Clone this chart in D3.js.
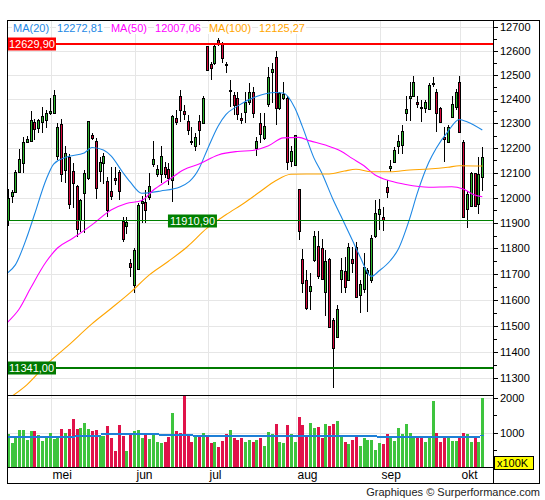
<!DOCTYPE html>
<html>
<head>
<meta charset="utf-8">
<script src="https://cdn.jsdelivr.net/npm/d3@7"></script>
<style>
body { margin: 0; background: #fff; }
svg { display: block; font-family: "Liberation Sans", Arial, sans-serif; font-size: 11px; }
</style>
</head>
<body>
<svg id="chart" width="545" height="500"></svg>
<script>
// daily candles, mid april -> early october
const opens = [11912,12008,12024,12102,12138,12223,12229,12305,12283,12306,
  12313,12344,12344,12169,12298,12111,12165,12107,12047,11912,
  12018,12078,12253,12229,12108,12141,12067,12027,12080,12102,
  11908,11888,11741,11657,11718,11979,11983,12004,12134,12095,
  12095,12125,12114,12071,12324,12412,12351,12310,12229,12209,
  12310,12303,12620,12546,12549,12645,12630,12545,12437,12417,
  12403,12321,12346,12389,12428,12199,12301,12240,12380,12511,
  12574,12362,12403,12403,12147,12131,12034,11757,11676,11635,
  11754,11809,11800,11631,11757,11522,11458,11679,11711,11676,
  11757,11804,11618,11640,11702,11676,11848,11935,11923,12042,
  12118,12145,12209,12212,12342,12403,12414,12387,12369,12362,
  12358,12464,12431,12365,12246,12226,12325,12366,12470,12226,
  11955,11968,12098,11974,12082];
const highs = [12034,12031,12111,12195,12244,12249,12350,12320,12320,12369,
  12355,12403,12438,12301,12317,12208,12175,12141,12051,11994,
  12111,12312,12260,12242,12165,12179,12084,12125,12125,12111,
  11925,11922,11757,11800,11978,12007,12031,12098,12229,12131,
  12208,12142,12138,12335,12355,12438,12376,12335,12287,12260,
  12335,12414,12622,12555,12634,12653,12639,12555,12479,12431,
  12431,12342,12431,12465,12451,12246,12342,12344,12535,12549,
  12600,12430,12472,12414,12208,12253,12035,11796,11715,11702,
  11868,11868,11835,11793,11761,11529,11580,11761,11767,11820,
  11806,11826,11676,11780,11722,11852,11991,11994,11962,12071,
  12152,12203,12253,12294,12414,12472,12496,12414,12396,12396,
  12465,12493,12441,12366,12287,12294,12412,12441,12496,12233,
  12027,12104,12100,12165,12205];
const lows = [11889,11980,12022,12098,12098,12219,12226,12233,12260,12262,
  12280,12335,12339,12152,12064,12060,11956,11958,11846,11863,
  11860,12071,12233,11994,12062,12056,11925,11991,12051,11991,
  11826,11856,11689,11625,11715,11900,11898,11991,12125,12084,
  12058,12078,12051,11984,12294,12307,12314,12253,12212,12189,
  12212,12301,12518,12479,12542,12622,12549,12507,12369,12335,
  12314,12298,12301,12376,12321,12169,12219,12233,12369,12383,
  12294,12355,12396,12111,12125,12127,11833,11627,11560,11560,
  11748,11679,11676,11537,11494,11263,11452,11625,11625,11672,
  11702,11611,11550,11625,11554,11663,11839,11872,11869,11998,
  12104,12138,12176,12176,12311,12311,12412,12362,12305,12342,
  12355,12451,12264,12304,12145,12219,12321,12355,12262,11924,
  11879,11963,11963,11934,12028];
const closes = [11998,12022,12102,12156,12223,12237,12313,12279,12313,12331,
  12344,12351,12417,12284,12094,12179,11974,12058,11875,11991,
  12098,12310,12240,12040,12142,12168,11951,12008,12071,12027,
  11837,11902,11726,11793,11971,11987,11951,12047,12156,12116,
  12169,12095,12080,12331,12307,12355,12338,12273,12228,12244,
  12273,12405,12521,12528,12620,12632,12570,12544,12438,12376,
  12339,12314,12389,12431,12342,12230,12257,12290,12493,12525,
  12362,12424,12421,12145,12188,12251,11869,11663,11567,11653,
  11848,11692,11679,11750,11496,11414,11563,11715,11650,11804,
  11744,11612,11660,11728,11715,11839,11941,11954,11912,12024,
  12127,12192,12229,12269,12358,12413,12470,12379,12368,12387,
  12458,12466,12342,12305,12235,12287,12379,12428,12264,11925,
  12014,12098,11968,12095,12163];
// volume in units of 100K
const volumes = [971,685,876,1066,1085,781,1038,1038,923,752,
  828,990,809,895,1095,990,1095,1399,1095,1133,
  1276,1095,1038,1066,904,904,1180,847,476,1209,
  895,476,923,1038,1066,828,942,809,942,733,
  704,733,876,1561,1038,1000,2047,895,733,923,
  876,990,923,704,733,590,762,952,1066,847,
  781,847,733,781,733,781,847,619,1019,952,
  1238,733,704,1209,952,714,1447,1209,923,1276,
  1133,1161,847,1238,1190,1238,1333,876,733,666,
  781,904,619,847,781,781,495,704,666,952,
  828,752,1133,952,1238,990,847,847,847,733,
  876,1923,1000,733,847,876,752,752,876,1000,
  952,733,876,733,1990];

const monthNames = ["mei", "jun", "jul", "aug", "sep", "okt"];
const monthStarts = [11, 33, 52, 75, 97, 118];

// moving averages at these candle indices
const ma20Idx = [0,2,5,7,10,12,15,20,22,25,27,30,32,35,40,45,50,52,55,57,60,65,70,72,75,77,80,82,85,87,90,92,95,97,100,102,105,107,110,112,115,118,120,124];
const ma20 = [11704,11735,11843,11933,12071,12135,12162,12180,12202,12192,12168,12103,12063,12018,12027,12043,12117,12188,12290,12336,12371,12411,12427,12425,12364,12287,12160,12101,11993,11929,11833,11769,11690,11711,11752,11795,11916,12017,12141,12200,12267,12316,12307,12273];
const ma50Idx = [0,3,6,10,13,17,22,27,31,35,38,42,46,50,55,60,64,68,72,76,79,83,87,90,93,96,100,104,110,116,119,122,124];
const ma50 = [11514,11564,11645,11746,11801,11839,11892,11951,11977,11989,12030,12071,12112,12135,12172,12186,12190,12208,12241,12243,12229,12212,12188,12158,12129,12091,12067,12053,12042,12044,12035,12011,12004];
const ma100Idx = [0,5,10,16,22,27,32,37,42,47,52,57,62,66,70,74,78,84,88,91,95,100,105,110,115,118,124];
const ma100 = [11223,11276,11351,11427,11507,11566,11627,11696,11749,11807,11878,11932,11981,12025,12068,12094,12095,12095,12107,12114,12104,12104,12111,12115,12122,12128,12127];

const maNames = ["MA(20)", "MA(50)", "MA(100)"];
const maLast = ["12272,81", "12007,06", "12125,27"];

// average volume steps (start index, level)
const volAvgStart = [0, 18, 25, 40, 49, 97, 124];
const volAvg = [874, 903, 952, 922, 903, 874, 910];

const levels = [12629.90, 11910.90, 11341.00];
const priceTicks = d3.range(11300, 12701, 100);
const volTicks = [1000, 2000];

const n = closes.length;
const svg = d3.select("#chart");
const L = 7, R = 493, T = 20, MB = 395, VB = 467, FR = 539, FB = 483;

const x = d3.scaleLinear().domain([0, n - 1]).range([7.7, 482.3]);
const y = d3.scaleLog().domain([11238, 12730.5]).range([MB, T]);
const vy = d3.scaleLinear().domain([0, 1000]).range([VB, 432.5]);
const px = i => Math.round(x(i));
const fmt = v => v.toFixed(2).replace(".", ",");

const upCandle = "#2db52d", downCandle = "#d4083c";
const upVol = "#3ec43e", downVol = "#e0134a";
const maColors = ["#1e88e5", "#ff00ff", "#ffa500"];

const defs = svg.append("defs");
defs.append("clipPath").attr("id", "clipMain")
  .append("rect").attr("x", L).attr("y", T).attr("width", R - L).attr("height", MB - T);
defs.append("clipPath").attr("id", "clipVol")
  .append("rect").attr("x", L).attr("y", MB).attr("width", R - L).attr("height", VB - MB);

// grid
const grid = svg.append("g").attr("stroke", "#e6e6e6").attr("shape-rendering", "crispEdges");
grid.selectAll(".hp").data(priceTicks).join("line")
  .attr("x1", L).attr("x2", R)
  .attr("y1", d => Math.round(y(d)) + 0.5).attr("y2", d => Math.round(y(d)) + 0.5);
grid.selectAll(".hv").data(volTicks).join("line")
  .attr("x1", L).attr("x2", R)
  .attr("y1", d => Math.round(vy(d)) + 0.5).attr("y2", d => Math.round(vy(d)) + 0.5);
grid.selectAll(".vm").data(monthStarts).join("line")
  .attr("x1", d => px(d) + 1.5).attr("x2", d => px(d) + 1.5)
  .attr("y1", T).attr("y2", VB);

// volume bars
const volG = svg.append("g").attr("clip-path", "url(#clipVol)").attr("shape-rendering", "crispEdges");
volG.selectAll("rect").data(d3.range(n)).join("rect")
  .attr("x", i => px(i) - 1)
  .attr("width", 3)
  .attr("y", i => vy(volumes[i]))
  .attr("height", i => VB - vy(volumes[i]))
  .attr("fill", i => closes[i] >= opens[i] ? upVol : downVol);

volG.selectAll(".avg").data(volAvgStart).join("line")
  .attr("x1", (d, k) => x(d) - 1.9)
  .attr("x2", (d, k) => k < volAvgStart.length - 1 ? x(volAvgStart[k + 1]) - 1.9 : x(n - 1) + 2)
  .attr("y1", (d, k) => vy(volAvg[k])).attr("y2", (d, k) => vy(volAvg[k]))
  .attr("stroke", "#1e7fd6").attr("stroke-width", 1.6);

// candles
const main = svg.append("g").attr("clip-path", "url(#clipMain)");
const cg = main.append("g").attr("shape-rendering", "crispEdges");
cg.selectAll("line").data(d3.range(n)).join("line")
  .attr("x1", i => px(i) + 0.5).attr("x2", i => px(i) + 0.5)
  .attr("y1", i => Math.round(y(highs[i]))).attr("y2", i => Math.round(y(lows[i])))
  .attr("stroke", "#000");
cg.selectAll("rect").data(d3.range(n)).join("rect")
  .attr("x", i => px(i) - 0.5)
  .attr("width", 2)
  .attr("y", i => Math.round(y(Math.max(opens[i], closes[i]))) + 0.5)
  .attr("height", i => Math.max(1, Math.round(y(Math.min(opens[i], closes[i]))) - Math.round(y(Math.max(opens[i], closes[i])))))
  .attr("fill", i => closes[i] >= opens[i] ? upCandle : downCandle)
  .attr("stroke", "#000");

// moving averages
const maLine = d3.line().x(d => x(d[0])).y(d => y(d[1])).curve(d3.curveMonotoneX);
[[ma20Idx, ma20], [ma50Idx, ma50], [ma100Idx, ma100]].forEach(([idx, vals], k) => {
  main.append("path")
    .attr("d", maLine(idx.map((d, j) => [d, vals[j]])))
    .attr("fill", "none")
    .attr("stroke", maColors[k])
    .attr("stroke-width", 1.1);
});

// level lines
const levelColors = ["#ff0000", "#008000", "#007a00"];
const levelWidths = [2, 1, 2];
const levelBoxX = [L, x(42) - 0.5, L];
levels.forEach((v, k) => {
  const ly = Math.round(y(v)) + (levelWidths[k] === 1 ? 0.5 : 0);
  main.append("line")
    .attr("x1", L).attr("x2", R).attr("y1", ly).attr("y2", ly)
    .attr("stroke", levelColors[k]).attr("stroke-width", levelWidths[k])
    .attr("shape-rendering", "crispEdges");
  svg.append("rect")
    .attr("x", levelBoxX[k]).attr("y", Math.round(ly) - 6.5)
    .attr("width", 49).attr("height", 13)
    .attr("fill", levelColors[k]);
  svg.append("text")
    .attr("x", levelBoxX[k] + 2).attr("y", Math.round(ly) + 4)
    .attr("fill", "#fff")
    .text(fmt(v));
});

// legend
const legBg = svg.append("g"), legTx = svg.append("g");
let lx = 13;
maNames.forEach((name, k) => {
  [name, maLast[k]].forEach(t => {
    const txt = legTx.append("text").attr("x", lx).attr("y", 32).attr("fill", maColors[k]).text(t);
    const w = txt.node().getComputedTextLength();
    legBg.append("rect").attr("x", lx - 1).attr("y", 22).attr("width", w + 2).attr("height", 12).attr("fill", "#fff");
    lx += w + 8;
  });
});

// frame and separators
const fr = svg.append("g").attr("stroke", "#000").attr("shape-rendering", "crispEdges");
fr.append("rect").attr("x", L + 0.5).attr("y", T + 0.5).attr("width", FR - L).attr("height", FB - T).attr("fill", "none");
fr.append("line").attr("x1", L).attr("x2", R).attr("y1", MB + 0.5).attr("y2", MB + 0.5);
fr.append("line").attr("x1", L).attr("x2", R).attr("y1", VB + 0.5).attr("y2", VB + 0.5);
fr.append("line").attr("x1", R + 0.5).attr("x2", R + 0.5).attr("y1", T).attr("y2", FB);

// price axis
const ax = svg.append("g");
ax.selectAll(".tk").data(priceTicks).join("line")
  .attr("x1", R).attr("x2", R + 5)
  .attr("y1", d => Math.round(y(d)) + 0.5).attr("y2", d => Math.round(y(d)) + 0.5)
  .attr("stroke", "#000").attr("shape-rendering", "crispEdges");
ax.selectAll(".mt").data(priceTicks.map(d => d + 50).filter(d => y(d) > T)).join("line")
  .attr("x1", R).attr("x2", R + 4)
  .attr("y1", d => Math.round(y(d)) + 0.5).attr("y2", d => Math.round(y(d)) + 0.5)
  .attr("stroke", "#000").attr("shape-rendering", "crispEdges");
ax.selectAll("text").data(priceTicks).join("text")
  .attr("x", R + 7).attr("y", d => y(d) + 4)
  .attr("fill", "#000")
  .text(d => d);

// volume axis
const vax = svg.append("g");
vax.selectAll("line").data([500, 1000, 1500, 2000]).join("line")
  .attr("x1", R).attr("x2", d => R + (d % 1000 === 0 ? 5 : 4))
  .attr("y1", d => Math.round(vy(d)) + 0.5).attr("y2", d => Math.round(vy(d)) + 0.5)
  .attr("stroke", "#000").attr("shape-rendering", "crispEdges");
vax.selectAll("text").data(volTicks).join("text")
  .attr("x", R + 7).attr("y", d => vy(d) + 4)
  .text(d => d);
vax.append("rect").attr("x", R + 1.5).attr("y", 456.5).attr("width", 39).attr("height", 13)
  .attr("fill", "#ffff00").attr("stroke", "#000").attr("shape-rendering", "crispEdges");
vax.append("text").attr("x", R + 4).attr("y", 467).text("x100K");

// month labels
svg.append("g").selectAll("text").data(monthStarts).join("text")
  .attr("x", d => px(d) + 2.5).attr("y", 479)
  .style("font-size", "12px")
  .text((d, k) => monthNames[k]);

svg.append("text").attr("x", 540).attr("y", 496).attr("text-anchor", "end")
  .attr("fill", "#222")
  .text("Graphiques © Surperformance.com");
</script>
</body>
</html>
